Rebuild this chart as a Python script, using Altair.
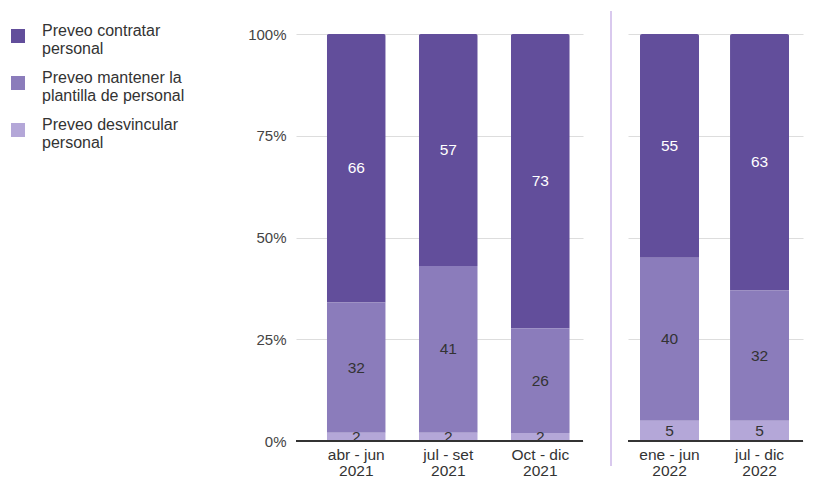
import altair as alt
import pandas as pd

periods_2021 = ["abr - jun\n2021", "jul - set\n2021", "Oct - dic\n2021"]
periods_2022 = ["ene - jun\n2022", "jul - dic\n2022"]
series_labels = ["Preveo contratar\npersonal", "Preveo mantener la\nplantilla de personal", "Preveo desvincular\npersonal"]
contratar = [66, 57, 73, 55, 63]
mantener = [32, 41, 26, 40, 32]
desvincular = [2, 2, 2, 5, 5]
colors = ["#624e9b", "#8b7cbb", "#b4a7d8"]
text_colors = ["#ffffff", "#333333", "#333333"]

all_periods = periods_2021 + periods_2022
rows = []
for i, p in enumerate(all_periods):
    for lab, vals, order, tc in zip(series_labels, [contratar, mantener, desvincular], [2, 1, 0], text_colors):
        rows.append({"period": p, "serie": lab, "value": vals[i], "order": order,
                     "tcolor": tc, "year": "2021" if p in periods_2021 else "2022"})
df = pd.DataFrame(rows)

FONT = "Liberation Sans"

color = alt.Color("serie:N", scale=alt.Scale(domain=series_labels, range=colors),
                  legend=alt.Legend(title=None, orient="none", legendX=-286, legendY=-6,
                                    symbolType="square", symbolSize=196,
                                    symbolStrokeWidth=0, labelFontSize=16, labelColor="#333333",
                                    labelFont=FONT, labelExpr="split(datum.label, '\\n')",
                                    labelBaseline="alphabetic", labelOffset=16, rowPadding=13,
                                    labelLimit=300))


def panel(data, domain, width, pi, po, align, show_y):
    x = alt.X("period:N", sort=domain,
              scale=alt.Scale(domain=domain, paddingInner=pi, paddingOuter=po, align=align),
              axis=alt.Axis(title=None, labelAngle=0, labelExpr="split(datum.label, '\\n')",
                            labelFontSize=15.5, labelColor="#333333", labelFont=FONT,
                            ticks=False, domain=False, labelPadding=6, labelLineHeight=16))
    yax = alt.Axis(title=None, format="%", values=[0, 0.25, 0.5, 0.75, 1], labels=show_y,
                   ticks=False, domain=False, gridColor="#dddddd", labelFontSize=15,
                   labelColor="#444444", labelFont=FONT, labelPadding=10)
    base = alt.Chart(data)
    bars = base.mark_bar(cornerRadiusTopLeft=2, cornerRadiusTopRight=2).encode(
        x=x,
        y=alt.Y("value:Q", stack="normalize", axis=yax, scale=alt.Scale(domain=[0, 1])),
        color=color,
        order=alt.Order("order:Q"),
    )
    texts = base.transform_stack(
        stack="value", as_=["y0", "y1"], groupby=["period"], sort=[alt.SortField("order")],
        offset="normalize"
    ).transform_calculate(mid="(datum.y0 + datum.y1) / 2").mark_text(
        fontSize=15.5, font=FONT
    ).encode(
        x=x,
        y=alt.Y("mid:Q"),
        text=alt.Text("value:Q"),
        color=alt.Color("tcolor:N", scale=None),
    )
    zero = base.mark_rule(color="#333333", strokeWidth=1.2).encode(y=alt.datum(0))
    layers = [bars, zero, texts]
    if not show_y:
        div = base.mark_rule(color="#d9c9ee", strokeWidth=2).encode(
            x=alt.value(-17), y=alt.value(-23), y2=alt.value(432))
        layers = [div] + layers
    return alt.layer(*layers).properties(width=width, height=407)


left = panel(df[df.year == "2021"], periods_2021, 287, 0.359, 0.239, 0.7, True)
right = panel(df[df.year == "2022"], periods_2022, 175, 0.344, 0.144, 0.463, False)

chart = alt.hconcat(left, right, spacing=26).resolve_scale(color="shared").properties(
    padding={"left": 2, "top": 2, "right": 0, "bottom": 0}
).configure_view(stroke=None)

chart.save("out.html", embed_options={"renderer": "svg", "actions": False})
